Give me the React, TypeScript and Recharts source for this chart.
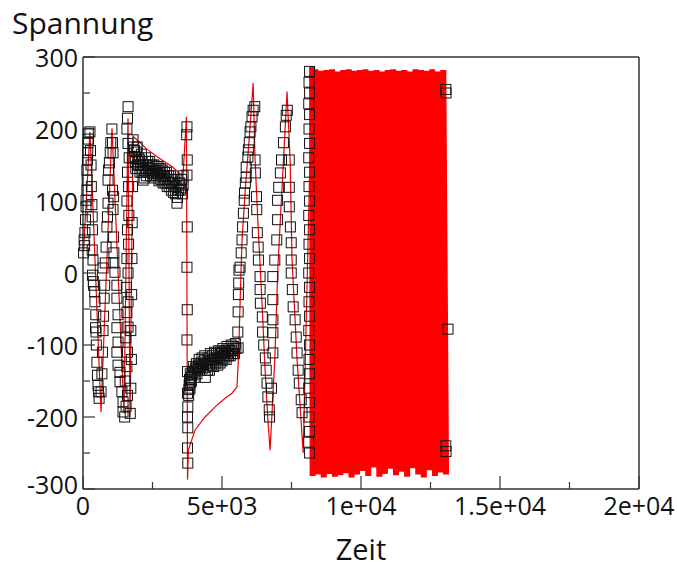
import { ComposedChart, XAxis, YAxis, Scatter, Line } from "recharts";

// axis ticks
const xAllTicks = [0, 2500, 5000, 7500, 10000, 12500, 15000, 17500, 20000];
const xMajorTicks = [0, 5000, 10000, 15000, 20000];
const xTickLabels = ["0", "5e+03", "1e+04", "1.5e+04", "2e+04"];
const yAllTicks = [-300, -250, -200, -150, -100, -50, 0, 50, 100, 150, 200, 250, 300];
const yMajorTicks = [-300, -200, -100, 0, 100, 200, 300];

// measured samples (squares), [Zeit, Spannung]
const squaresSwing1: [number, number][] = [
  [20, 28], [40, 46], [60, 38], [70, 56], [90, 74], [110, 92], [110, 101], [140, 115], [150, 129],
  [140, 143], [160, 157], [170, 167], [180, 181], [190, 194], [200, 186],
  [250, 196], [270, 170], [290, 150], [300, 120], [320, 95], [330, 78], [340, 60], [330, 32],
  [360, 18], [340, -3], [370, -12], [380, -17], [420, -26], [430, -40], [460, -58], [450, -76],
  [470, -82], [480, -100], [500, -124], [520, -142], [540, -156], [560, -165], [580, -174],
];

const squaresSwing2: [number, number][] = [
  [650, -165], [680, -140], [700, -110], [720, -80], [740, -60], [760, -35], [780, -17], [720, 7],
  [800, 14], [830, 36], [860, 64], [880, 78], [900, 97], [900, 129], [920, 143], [950, 153],
  [980, 167], [1000, 181],
  [1040, 200], [1060, 181], [1080, 167], [1060, 115], [1100, 106], [1080, 88], [1100, 50],
  [1110, 28], [1110, 14], [1150, 1], [1220, -17], [1220, -35], [1260, -58], [1220, -76],
  [1260, -96], [1220, -110], [1260, -128], [1330, -138], [1330, -151], [1400, -165],
  [1440, -179], [1440, -193],
];

const squaresSwing3: [number, number][] = [
  [1500, -200], [1550, -185], [1600, -170], [1520, -150], [1580, -130], [1600, -110], [1540, -90],
  [1620, -75], [1580, -55], [1620, -40], [1560, -20], [1620, 0], [1580, 20], [1640, 40],
  [1600, 60], [1650, 80], [1580, 100], [1640, 120], [1600, 140], [1660, 160], [1620, 180],
  [1580, 200], [1600, 215], [1620, 231],
  [1700, -195], [1720, -160], [1740, -120], [1720, -80], [1750, -30], [1760, 20], [1770, 70],
  [1780, 120], [1790, 160],
];

const squaresPlateau: [number, number][] = [
  [1800, 185], [1850, 170], [1880, 155], [1900, 145], [1950, 175], [1980, 160], [2000, 150],
  [2050, 140], [2100, 165], [2130, 155], [2150, 145], [2160, 129], [2200, 132], [2250, 160],
  [2300, 150], [2350, 140], [2400, 155], [2450, 145], [2500, 138], [2550, 150], [2600, 142],
  [2650, 135], [2700, 148], [2750, 140], [2800, 130], [2850, 143], [2900, 135], [2950, 125],
  [3000, 140], [3050, 130], [3100, 120], [3150, 135], [3200, 125], [3250, 112], [3300, 130],
  [3350, 120], [3380, 97], [3400, 105], [3450, 125], [3500, 115], [3550, 130], [3600, 122],
  [3600, 135],
  [1820, 175], [1870, 162], [1920, 168], [1960, 150], [2020, 158], [2070, 150], [2120, 140],
  [2180, 150], [2230, 142], [2280, 135], [2330, 155], [2380, 145], [2430, 135], [2480, 150],
  [2530, 142], [2580, 132], [2630, 148], [2680, 138], [2730, 128], [2780, 145], [2830, 135],
  [2880, 125], [2930, 140], [2980, 130], [3030, 120], [3080, 135], [3130, 125], [3180, 115],
  [3230, 130], [3280, 120], [3330, 110], [3430, 115], [3480, 125], [3530, 118], [3580, 110],
];

const squaresDrop: [number, number][] = [
  [3740, 203], [3730, 192], [3750, 157], [3740, 136], [3750, 64], [3740, 8], [3750, -51],
  [3740, -93], [3760, -137], [3760, -167], [3770, -186], [3760, -200], [3770, -215],
  [3760, -243], [3770, -264],
];

const squaresRecovery: [number, number][] = [
  [3800, -170], [3820, -155], [3850, -160], [3880, -145], [3900, -150], [3950, -138],
  [4000, -145], [4050, -132], [4100, -140], [4150, -128], [4200, -135], [4250, -125],
  [4300, -132], [4350, -122], [4400, -145], [4450, -128], [4500, -118], [4550, -135],
  [4600, -125], [4650, -115], [4700, -130], [4750, -120], [4800, -112], [4850, -128],
  [4900, -118], [4950, -110], [5000, -122], [5050, -115], [5100, -108], [5150, -120],
  [5200, -112], [5250, -105], [5300, -115], [5350, -108], [5400, -102], [5450, -112],
  [5500, -105],
  [3810, -162], [3830, -148], [3860, -140], [3870, -152], [3920, -142], [3970, -130],
  [4020, -136], [4080, -126], [4130, -133], [4180, -120], [4230, -130], [4280, -118],
  [4330, -127], [4380, -115], [4420, -125], [4480, -135], [4530, -122], [4580, -112],
  [4630, -128], [4680, -120], [4730, -110], [4780, -125], [4830, -118], [4880, -108],
  [4930, -125], [4980, -112], [5030, -105], [5080, -118], [5130, -110], [5180, -102],
  [5230, -115], [5280, -108], [5330, -100], [5380, -112], [5430, -105], [5480, -98],
];

const squaresRiseA: [number, number][] = [
  [5580, -104], [5570, -82], [5580, -54], [5590, -30], [5600, -14], [5610, 4], [5650, 8],
  [5690, 28], [5720, 46], [5740, 64], [5770, 83], [5800, 101], [5810, 111], [5840, 125],
  [5870, 133], [5870, 147], [5930, 161], [5950, 171], [5980, 181], [6010, 196], [6040, 203],
  [6080, 217], [6120, 226], [6180, 231],
];

const squaresFallA: [number, number][] = [
  [6190, 157], [6200, 139], [6240, 106], [6250, 88], [6270, 56], [6300, 36], [6310, 18],
  [6370, -5], [6370, -23], [6380, -42], [6450, -61], [6460, -82], [6500, -100], [6560, -118],
  [6590, -135], [6620, -153], [6650, -172], [6700, -190], [6710, -200],
];

const squaresRiseB: [number, number][] = [
  [6780, -160], [6830, -111], [6830, -83], [6830, -65], [6830, -37], [6830, -5], [6900, 18],
  [6970, 46], [7000, 74], [7000, 101], [7040, 119], [7100, 139], [7140, 157], [7210, 181],
  [7280, 203], [7310, 219], [7350, 226],
];

const squaresFallB: [number, number][] = [
  [7420, 157], [7420, 119], [7420, 92], [7460, 64], [7490, 42], [7490, 18], [7490, 0],
  [7530, -23], [7560, -47], [7630, -65], [7670, -89], [7700, -111], [7740, -135],
  [7780, -153], [7850, -176], [7880, -194],
];

const squaresBurstEdge: [number, number][] = [
  [8150, 280], [8130, 265], [8150, 250], [8120, 235], [8150, 220], [8130, 200], [8150, 180],
  [8120, 160], [8150, 140], [8130, 120], [8150, 100], [8120, 80], [8150, 60], [8130, 40],
  [8150, 20], [8120, 0], [8150, -20], [8130, -40], [8150, -60], [8120, -80], [8150, -100],
  [8130, -120], [8150, -140], [8120, -160], [8150, -180], [8130, -200], [8150, -220],
  [8120, -235], [8150, -250],
  [13050, 255], [13060, 250], [13050, -240], [13060, -248], [13130, -78],
];

// simulated trace (red line)
const redTrace: [number, number][] = [
  [20, 30], [250, 196], [647, -193], [1043, 201], [1475, -195], [1619, 215], [1691, -200],
  [1799, 190], [2300, 172], [2800, 158], [3200, 148], [3597, 134], [3720, 217], [3760, -287],
  [3790, -246], [4030, -218], [4390, -200], [4750, -186], [5110, -174], [5360, -167],
  [5540, -158], [5600, -111], [5650, -42], [5720, 46], [5830, 111], [6010, 203], [6120, 264],
  [6190, 157], [6300, 64], [6440, -42], [6550, -135], [6650, -204], [6730, -246],
  [6900, -120], [7010, 8], [7340, 252], [7450, 157], [7520, 18], [7700, -120], [7920, -250],
  [8240, 286],
];

const redBurst: [number, number][] = [
  [8240, 286], [8260, -282], [8360, 283], [8460, -280], [8560, 281], [8660, -284], [8760, 282],
  [8860, -279], [8960, 283], [9060, -283], [9160, 280], [9260, -281], [9360, 282],
  [9460, -278], [9560, 283], [9660, -284], [9760, 281], [9860, -280], [9960, 282],
  [10060, -275], [10160, 283], [10260, -282], [10360, 281], [10460, -270], [10560, 282],
  [10660, -283], [10760, 280], [10860, -279], [10960, 282], [11060, -272], [11160, 283],
  [11260, -281], [11360, 281], [11460, -276], [11560, 282], [11660, -283], [11760, 280],
  [11860, -271], [11960, 283], [12060, -280], [12160, 282], [12260, -284], [12360, 281],
  [12460, -274], [12560, 283], [12660, -282], [12760, 280], [12860, -277], [12960, 282],
  [13060, -280],
];

const toRows = (pts: [number, number][]) => pts.map(([t, v]) => ({ t, v }));

const squares = toRows([
  ...squaresSwing1, ...squaresSwing2, ...squaresSwing3, ...squaresPlateau, ...squaresDrop,
  ...squaresRecovery, ...squaresRiseA, ...squaresFallA, ...squaresRiseB, ...squaresFallB,
  ...squaresBurstEdge,
]);

const FONT = "'Open Sans', 'Noto Sans', sans-serif";
const FRAME = "#333";

const Square = (p: any) => (
  <rect x={p.cx - 5} y={p.cy - 5} width={10} height={10} fill="none" stroke="#111" strokeWidth={1} />
);

const BottomTick = ({ x, y, payload }: any) => {
  const i = xMajorTicks.indexOf(payload.value);
  return (
    <g>
      <line x1={x} x2={x} y1={y} y2={y - (i >= 0 ? 13 : 7)} stroke={FRAME} strokeWidth={1.2} />
      {i >= 0 && (
        <text x={x} y={y + 26} textAnchor="middle" fontSize={25} fontFamily={FONT} fill="#111">
          {xTickLabels[i]}
        </text>
      )}
    </g>
  );
};

const TopTick = ({ x, y, payload }: any) => {
  const major = xMajorTicks.includes(payload.value);
  return <line x1={x} x2={x} y1={y} y2={y + (major ? 13 : 7)} stroke={FRAME} strokeWidth={1.2} />;
};

const LeftTick = ({ x, y, payload }: any) => {
  const major = yMajorTicks.includes(payload.value);
  return (
    <g>
      <line x1={x} x2={x + (major ? 12 : 7)} y1={y} y2={y} stroke={FRAME} strokeWidth={1.2} />
      {major && (
        <text x={x - 5} y={y + (payload.value === -300 ? 5 : 10)} textAnchor="end" fontSize={25} fontFamily={FONT} fill="#111">
          {payload.value}
        </text>
      )}
    </g>
  );
};

const RightTick = ({ x, y, payload }: any) => {
  const major = yMajorTicks.includes(payload.value);
  return <line x1={x} x2={x - (major ? 12 : 6)} y1={y} y2={y} stroke={FRAME} strokeWidth={1.2} />;
};

export default function App() {
  return (
    <div style={{ position: "fixed", left: 0, top: 0, width: 677, height: 567, background: "#fff" }}>
      <ComposedChart width={677} height={567} margin={{ top: 47, right: 28, bottom: 38, left: 23 }}>
        <XAxis
          dataKey="t"
          type="number"
          domain={[0, 20000]}
          ticks={xAllTicks}
          interval={0}
          height={40}
          tickSize={0}
          tickMargin={0}
          tick={<BottomTick />}
          axisLine={{ stroke: FRAME, strokeWidth: 1.5 }}
          label={(props: any) => {
            const vb = props.viewBox;
            return (
              <text x={vb.x + vb.width / 2} y={vb.y + 71} textAnchor="middle" fontSize={29} fontFamily={FONT} fill="#111">
                Zeit
              </text>
            );
          }}
        />
        <XAxis
          xAxisId="top"
          orientation="top"
          dataKey="t"
          type="number"
          domain={[0, 20000]}
          ticks={xAllTicks}
          interval={0}
          height={10}
          tickSize={0}
          tickMargin={0}
          tick={<TopTick />}
          axisLine={{ stroke: FRAME, strokeWidth: 1.5 }}
        />
        <YAxis
          dataKey="v"
          type="number"
          domain={[-300, 300]}
          ticks={yAllTicks}
          interval={0}
          width={60}
          tickSize={0}
          tickMargin={0}
          tick={<LeftTick />}
          axisLine={{ stroke: FRAME, strokeWidth: 1.5 }}
          label={(props: any) => {
            const vb = props.viewBox;
            return (
              <text x={vb.x - 11} y={vb.y - 23.5} textAnchor="start" fontSize={30} fontFamily={FONT} fill="#111">
                Spannung
              </text>
            );
          }}
        />
        <YAxis
          yAxisId="right"
          orientation="right"
          dataKey="v"
          type="number"
          domain={[-300, 300]}
          ticks={yAllTicks}
          interval={0}
          width={10}
          tickSize={0}
          tickMargin={0}
          tick={<RightTick />}
          axisLine={{ stroke: FRAME, strokeWidth: 1.5 }}
        />
        <Scatter data={squares} dataKey="v" shape={Square} isAnimationActive={false} />
        <Line
          data={toRows(redTrace)}
          dataKey="v"
          type="linear"
          stroke="#ee0000"
          strokeWidth={1.2}
          dot={false}
          activeDot={false}
          isAnimationActive={false}
        />
        <Line
          data={toRows(redBurst)}
          dataKey="v"
          type="linear"
          stroke="#ff0000"
          strokeWidth={6}
          strokeLinejoin="bevel"
          dot={false}
          activeDot={false}
          isAnimationActive={false}
        />
      </ComposedChart>
    </div>
  );
}
